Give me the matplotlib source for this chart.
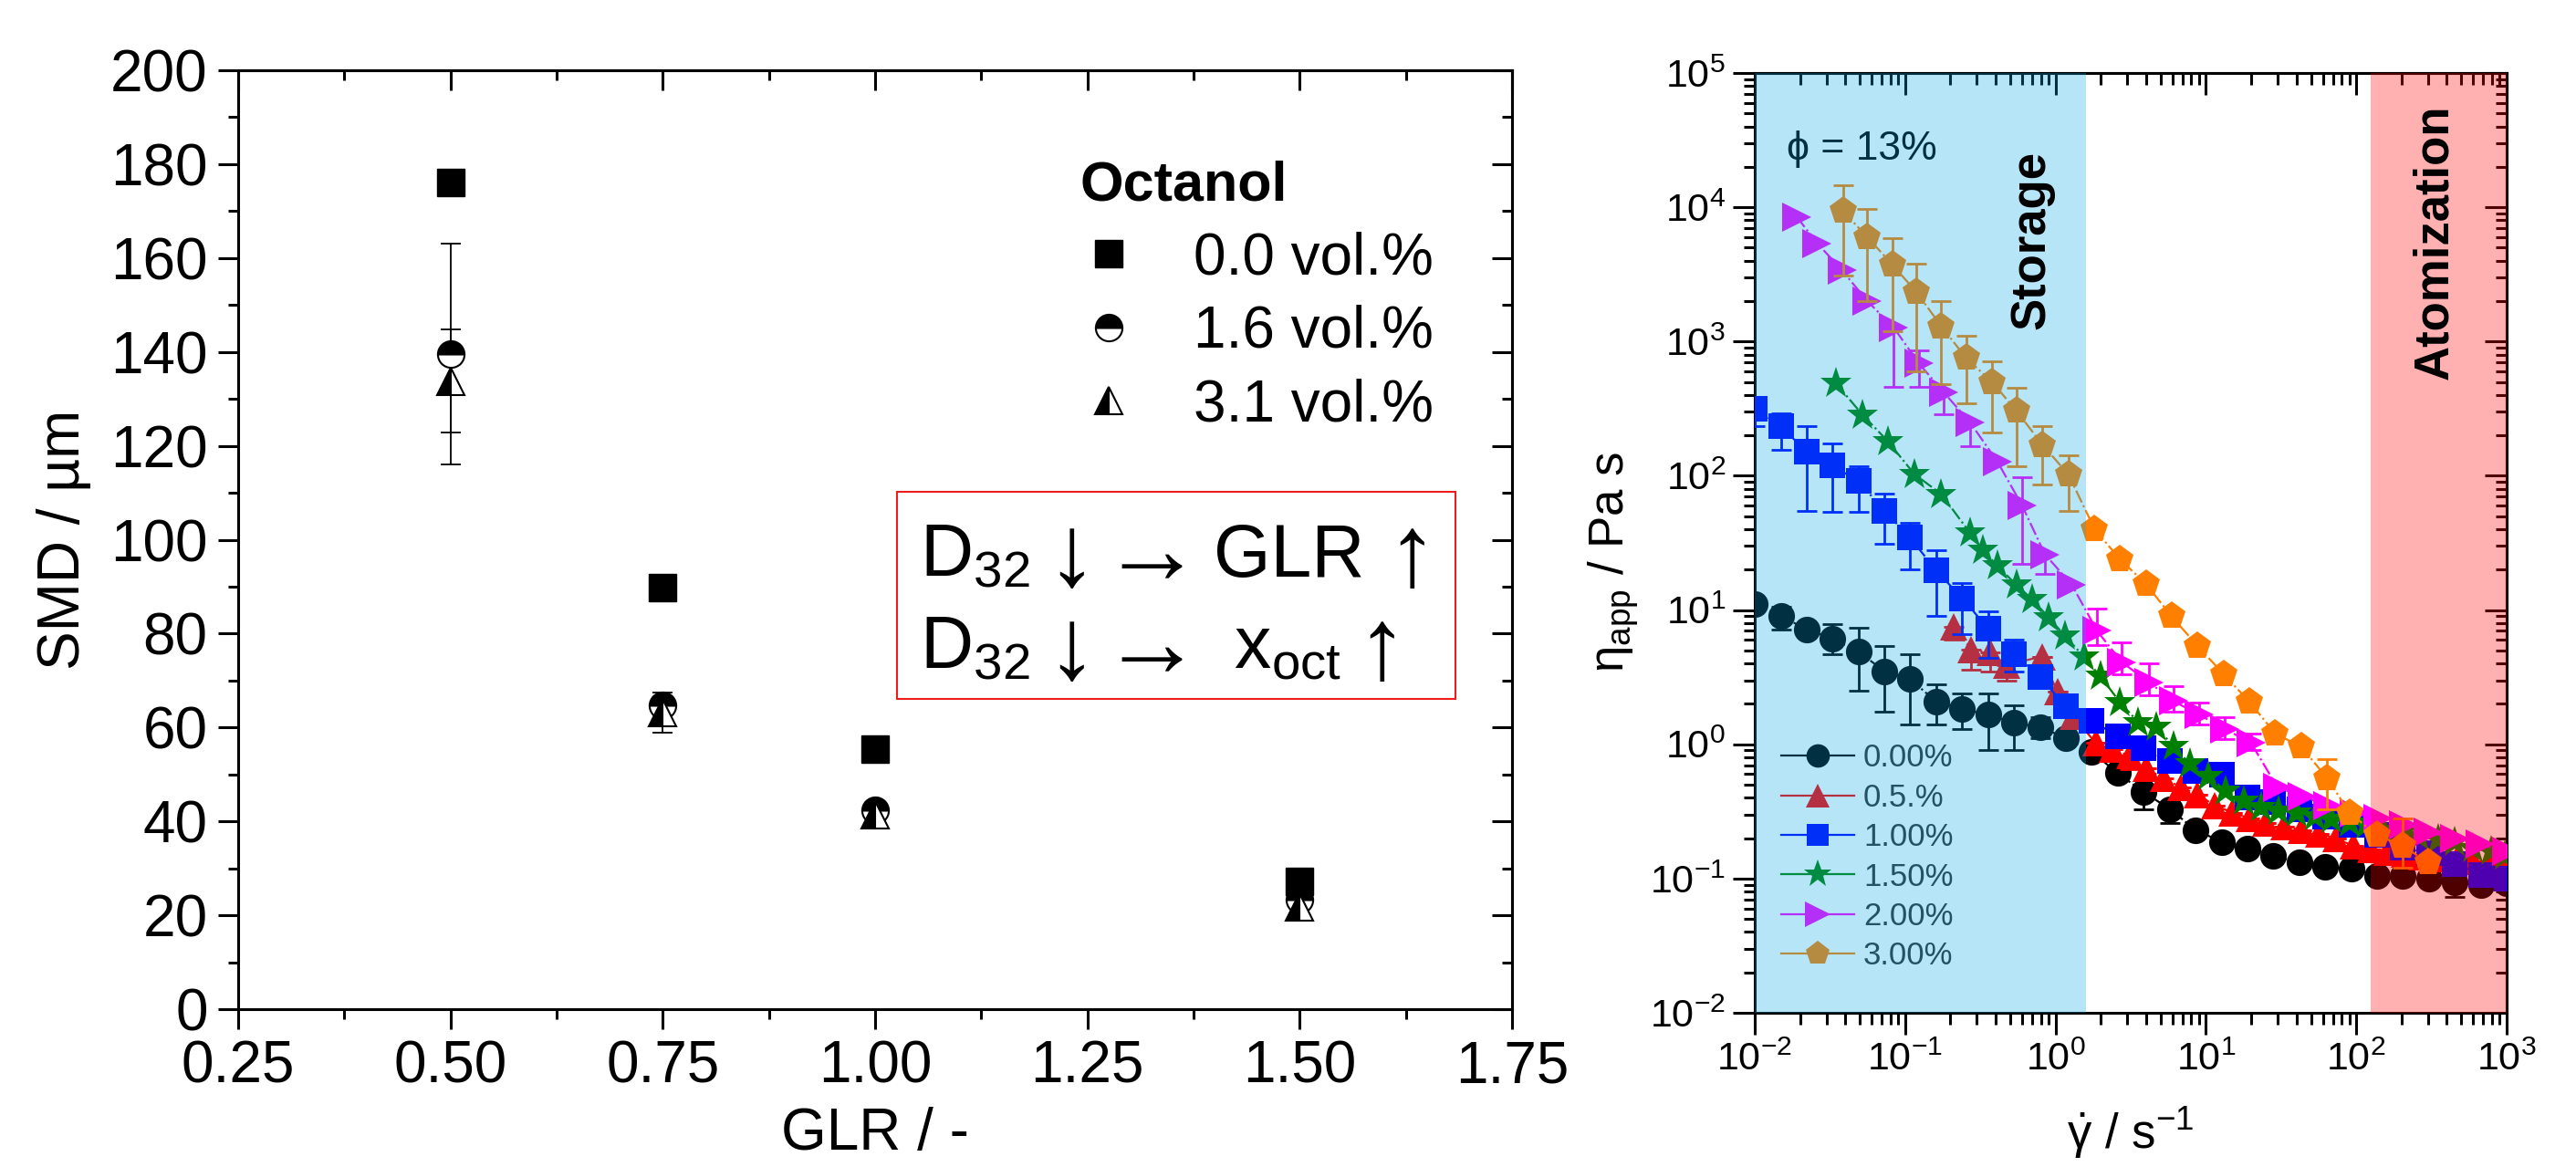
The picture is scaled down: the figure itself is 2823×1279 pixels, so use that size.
import matplotlib
matplotlib.use('Agg')
import matplotlib.pyplot as plt
from matplotlib.ticker import MultipleLocator, LogLocator, NullFormatter, FormatStrFormatter
from matplotlib.lines import Line2D
from matplotlib.patches import Rectangle

plt.rcParams['font.family'] = ['Liberation Sans', 'DejaVu Sans']
plt.rcParams['mathtext.fontset'] = 'custom'
plt.rcParams['mathtext.rm'] = 'Liberation Sans'
plt.rcParams['mathtext.it'] = 'Liberation Sans:italic'
plt.rcParams['mathtext.bf'] = 'Liberation Sans:bold'
plt.rcParams['mathtext.default'] = 'regular'

# ---------------- data: left panel (SMD vs GLR) ----------------
glr = [0.50, 0.75, 1.00, 1.50]
smd_00 = [176.0, 89.8, 55.4, 27.2]
smd_16 = [139.6, 64.8, 42.4, 23.3]
smd_31 = [133.8, 63.2, 41.4, 21.8]
err_16 = [23.5, 0.0, 0.0, 0.0]
err_31 = [11.0, 4.3, 0.0, 0.0]
octanol_labels = ['0.0 vol.%', '1.6 vol.%', '3.1 vol.%']

# ---------------- data: right panel (viscosity vs shear rate) ----------------
rate_grid = [0.0100, 0.0149, 0.0221, 0.0329, 0.0489, 0.0728, 0.108, 0.161, 0.240, 0.356,
             0.530, 0.788, 1.17, 1.74, 2.59, 3.86, 5.74, 8.53, 12.7, 18.9,
             28.1, 41.8, 62.1, 92.4, 137, 204, 304, 452, 672, 1000]

eta_000 = [11.0, 9.0, 7.2, 6.1, 4.9, 3.5, 3.05, 2.08, 1.83, 1.66,
           1.44, 1.35, 1.11, 0.88, 0.61, 0.44, 0.33, 0.23, 0.188, 0.167,
           0.147, 0.132, 0.122, 0.119, 0.105, 0.105, 0.099, 0.093, 0.089, 0.092]
lo_000 = [11.0, 7.2, 7.2, 4.7, 2.5, 1.75, 1.4, 1.4, 1.3, 0.91,
          0.91, 1.11, 1.11, 0.88, 0.61, 0.33, 0.26, 0.23, 0.188, 0.167,
          0.147, 0.132, 0.122, 0.119, 0.105, 0.105, 0.099, 0.073, 0.089, 0.092]
hi_000 = [11.0, 10.5, 7.2, 7.8, 7.4, 5.4, 4.7, 2.8, 2.4, 2.4,
          1.95, 1.6, 1.11, 0.88, 0.61, 0.44, 0.33, 0.23, 0.188, 0.167,
          0.147, 0.132, 0.122, 0.119, 0.105, 0.105, 0.099, 0.093, 0.089, 0.092]

rate_050 = [0.21, 0.275, 0.37, 0.47, 0.81, 1.03, 1.32, 1.85, 2.4, 3.1,
            4.0, 5.2, 6.8, 8.8, 11.5, 15, 19.5, 25, 33, 43,
            56, 73, 95, 124, 161, 210, 273, 355, 462, 600, 780, 1000]
eta_050 = [7.5, 5.1, 4.8, 3.9, 4.5, 2.45, 1.62, 1.02, 0.92, 0.82,
           0.66, 0.56, 0.48, 0.42, 0.35, 0.31, 0.28, 0.26, 0.245, 0.23,
           0.215, 0.2, 0.175, 0.165, 0.158, 0.152, 0.146, 0.141, 0.137, 0.134, 0.131, 0.128]
lo_050 = [6.0, 3.6, 3.5, 3.0, 4.5, 2.45, 1.62, 1.02, 0.92, 0.65,
          0.66, 0.47, 0.48, 0.42, 0.35, 0.31, 0.28, 0.26, 0.245, 0.23,
          0.215, 0.2, 0.175, 0.165, 0.158, 0.152, 0.146, 0.141, 0.137, 0.134, 0.131, 0.128]
hi_050 = [7.5, 5.1, 4.8, 3.9, 4.5, 2.45, 1.62, 1.02, 0.92, 0.82,
          0.66, 0.56, 0.48, 0.42, 0.35, 0.31, 0.28, 0.26, 0.245, 0.23,
          0.215, 0.2, 0.175, 0.165, 0.158, 0.152, 0.146, 0.141, 0.137, 0.134, 0.131, 0.128]

eta_100 = [318, 234, 151, 119, 91, 55, 34.5, 19.7, 12.2, 7.3,
           4.7, 3.15, 1.93, 1.5, 1.15, 0.93, 0.75, 0.63, 0.59, 0.40,
           0.37, 0.33, 0.29, 0.25, 0.21, 0.17, 0.155, 0.129, 0.107, 0.100]
lo_100 = [234, 157, 55, 54, 54, 31, 20, 9.1, 6.6, 4.4,
          3.5, 3.15, 1.93, 1.5, 1.15, 0.93, 0.75, 0.63, 0.59, 0.40,
          0.37, 0.33, 0.29, 0.25, 0.21, 0.17, 0.155, 0.129, 0.107, 0.100]
hi_100 = [318, 293, 235, 173, 118, 74, 44.5, 28, 16, 9.8,
          6.0, 3.15, 1.93, 1.5, 1.15, 0.93, 0.75, 0.63, 0.59, 0.40,
          0.37, 0.33, 0.29, 0.25, 0.21, 0.17, 0.155, 0.129, 0.107, 0.100]

rate_150 = [0.0346, 0.052, 0.077, 0.115, 0.174, 0.27, 0.33, 0.41, 0.55, 0.70,
            0.90, 1.16, 1.54, 1.99, 2.69, 3.55, 4.7, 6.1, 7.8, 10.4,
            13.5, 17.9, 23.4, 30.3, 40, 53, 68, 90, 117, 151,
            200, 263, 349, 451, 596, 788, 973]
eta_150 = [490, 285, 180, 103, 73, 37.5, 28, 21.3, 15.4, 12,
           8.8, 6.4, 4.5, 3.2, 2.05, 1.46, 1.35, 0.96, 0.72, 0.58,
           0.45, 0.38, 0.34, 0.32, 0.31, 0.29, 0.275, 0.26, 0.25, 0.229,
           0.217, 0.206, 0.196, 0.186, 0.167, 0.159, 0.148]

rate_200 = [0.019, 0.026, 0.038, 0.056, 0.084, 0.123, 0.18, 0.27, 0.41, 0.60,
            0.85, 1.28, 1.89, 2.75, 4.18, 6.07, 9.0, 13.4, 20, 30,
            44, 65, 97, 140, 205, 300, 450, 670, 1000]
eta_200 = [8500, 5400, 3400, 2000, 1270, 690, 420, 250, 128, 60,
           26, 15.5, 7.0, 4.1, 2.9, 2.1, 1.66, 1.3, 1.02, 0.475,
           0.41, 0.35, 0.31, 0.28, 0.25, 0.22, 0.2, 0.18, 0.16]
lo_200 = [8500, 5400, 3400, 2000, 460, 457, 288, 165, 128, 22,
          18.6, 15.5, 5.5, 3.3, 2.3, 1.75, 1.4, 1.1, 0.9, 0.475,
          0.41, 0.35, 0.31, 0.28, 0.25, 0.22, 0.2, 0.18, 0.16]
hi_200 = [8500, 5400, 3400, 2000, 1270, 855, 420, 250, 128, 98,
          26, 15.5, 10.3, 5.7, 4.0, 2.7, 2.05, 1.6, 1.2, 0.475,
          0.41, 0.35, 0.31, 0.28, 0.25, 0.22, 0.2, 0.18, 0.16]

rate_300 = [0.0386, 0.056, 0.082, 0.119, 0.174, 0.254, 0.38, 0.55, 0.82, 1.22,
            1.82, 2.69, 4.0, 5.9, 8.8, 13.2, 19.5, 28.9, 43, 64,
            90, 137, 204, 300]
eta_300 = [9400, 6000, 3750, 2330, 1300, 755, 497, 304, 170, 102,
           40, 23.8, 15.6, 9.0, 5.4, 3.3, 2.07, 1.2, 0.96, 0.56,
           0.31, 0.21, 0.175, 0.132]
lo_300 = [3100, 2000, 1200, 600, 480, 345, 211, 117, 86, 55,
          40, 23.8, 15.6, 9.0, 5.4, 3.3, 2.07, 1.2, 0.96, 0.33,
          0.31, 0.21, 0.12, 0.132]
hi_300 = [14600, 9700, 5900, 3800, 1990, 1100, 716, 455, 235, 141,
          40, 23.8, 15.6, 9.0, 5.4, 3.3, 2.07, 1.2, 0.96, 0.78,
          0.31, 0.21, 0.28, 0.132]

conc_labels = ['0.00%', '0.5.%', '1.00%', '1.50%', '2.00%', '3.00%']

# ---------------- figure ----------------
W, H = 2823, 1279
fig = plt.figure(figsize=(W / 100, H / 100), dpi=100)


def rect(l, t, r, b):
    return [l / W, 1 - b / H, (r - l) / W, (b - t) / H]


ax1 = fig.add_axes(rect(261, 77, 1657, 1106))
ax2 = fig.add_axes(rect(1923, 80, 2747, 1110))

SW = 2.2  # spine / tick width


def ax1_frac(px, py):
    """pixel position (figure, from top-left) -> ax1 axes fraction"""
    return (px - 261) / 1396, (1106 - py) / 1029


# ---------------- left panel ----------------
ms_l = 21
ax1.plot(glr, smd_00, ls='none', marker='s', ms=ms_l, color='black', zorder=3)
g16 = [g for g, e in zip(glr, err_16) if e > 0]
ax1.errorbar(g16, [v for v, e in zip(smd_16, err_16) if e > 0],
             yerr=[e for e in err_16 if e > 0], fmt='none', ecolor='black',
             elinewidth=1.3, capsize=8, capthick=1.3, zorder=2)
g31 = [g for g, e in zip(glr, err_31) if e > 0]
ax1.errorbar(g31, [v for v, e in zip(smd_31, err_31) if e > 0],
             yerr=[e for e in err_31 if e > 0], fmt='none', ecolor='black',
             elinewidth=1.3, capsize=8, capthick=1.3, zorder=2)
ax1.plot(glr, smd_16, ls='none', marker='o', ms=ms_l, fillstyle='top',
         markerfacecolor='black', markerfacecoloralt='white',
         markeredgecolor='black', markeredgewidth=1.5, zorder=3)
ax1.plot(glr, smd_31, ls='none', marker='^', ms=ms_l, fillstyle='left',
         markerfacecolor='black', markerfacecoloralt='white',
         markeredgecolor='black', markeredgewidth=1.5, zorder=4)

ax1.set_xlim(0.25, 1.75)
ax1.set_ylim(0, 200)
ax1.xaxis.set_major_locator(MultipleLocator(0.25))
ax1.xaxis.set_minor_locator(MultipleLocator(0.125))
ax1.xaxis.set_major_formatter(FormatStrFormatter('%.2f'))
ax1.yaxis.set_major_locator(MultipleLocator(20))
ax1.yaxis.set_minor_locator(MultipleLocator(10))
ax1.tick_params(which='major', direction='out', length=16, width=SW,
                labelsize=46, pad=8)
ax1.tick_params(which='minor', direction='out', length=8, width=SW)
for s in ax1.spines.values():
    s.set_linewidth(SW)

t1 = ax1.secondary_xaxis('top')
t1.xaxis.set_major_locator(MultipleLocator(0.25))
t1.xaxis.set_minor_locator(MultipleLocator(0.125))
t1.xaxis.set_major_formatter(NullFormatter())
t1.tick_params(which='major', direction='in', length=16, width=SW)
t1.tick_params(which='minor', direction='in', length=8, width=SW)
r1 = ax1.secondary_yaxis('right')
r1.yaxis.set_major_locator(MultipleLocator(20))
r1.yaxis.set_minor_locator(MultipleLocator(10))
r1.yaxis.set_major_formatter(NullFormatter())
r1.tick_params(which='major', direction='in', length=16, width=SW)
r1.tick_params(which='minor', direction='in', length=8, width=SW)
for sa in (t1, r1):
    for s in sa.spines.values():
        s.set_linewidth(SW)

ax1.set_xlabel('GLR / -', fontsize=46)
ax1.xaxis.set_label_coords(0.5, -0.104)
ax1.set_ylabel('SMD / µm', fontsize=46)
ax1.yaxis.set_label_coords(-0.115, 0.5)

h_l = [Line2D([], [], ls='none', marker='s', ms=ms_l, color='black'),
       Line2D([], [], ls='none', marker='o', ms=ms_l, fillstyle='top',
              markerfacecolor='black', markerfacecoloralt='white',
              markeredgecolor='black', markeredgewidth=1.5),
       Line2D([], [], ls='none', marker='^', ms=ms_l, fillstyle='left',
              markerfacecolor='black', markerfacecoloralt='white',
              markeredgecolor='black', markeredgewidth=1.5)]
leg1 = ax1.legend(h_l, octanol_labels, title='Octanol',
                  title_fontproperties={'weight': 'bold', 'size': 44},
                  prop={'size': 46}, loc='upper left',
                  bbox_to_anchor=ax1_frac(1183, 176),
                  frameon=False, handlelength=1.0, handletextpad=0.95,
                  labelspacing=0.32, borderpad=0, borderaxespad=0,
                  alignment='left')

x0, y0 = ax1_frac(983, 766)
x1, y1 = ax1_frac(1595, 539)
ax1.add_patch(Rectangle((x0, y0), x1 - x0, y1 - y0,
                        transform=ax1.transAxes, fill=False,
                        edgecolor='#ee1c1c', lw=1.5, zorder=5))
FS_BOX = 58
FS_ARR = 80
for (px, py, s, ha, va, fs) in [
        (1008, 632, 'D$_{32}$', 'left', 'baseline', FS_BOX),
        (1174, 613, '↓', 'center', 'center', FS_ARR),
        (1262, 610, '→', 'center', 'center', FS_ARR),
        (1330, 632, 'GLR', 'left', 'baseline', FS_BOX),
        (1547, 613, '↑', 'center', 'center', FS_ARR),
        (1008, 733, 'D$_{32}$', 'left', 'baseline', FS_BOX),
        (1174, 715, '↓', 'center', 'center', FS_ARR),
        (1262, 712, '→', 'center', 'center', FS_ARR),
        (1352, 733, 'x$_{oct}$', 'left', 'baseline', FS_BOX),
        (1514, 715, '↑', 'center', 'center', FS_ARR)]:
    fx, fy = ax1_frac(px, py)
    ax1.text(fx, fy, s, transform=ax1.transAxes, fontsize=fs, ha=ha, va=va)

# ---------------- right panel ----------------
series = [
    (rate_grid, eta_000, lo_000, hi_000, 'o', '#000000', 21),
    (rate_050, eta_050, lo_050, hi_050, '^', '#ff0000', 22),
    (rate_grid, eta_100, lo_100, hi_100, 's', '#0000ff', 20),
    (rate_150, eta_150, None, None, '*', '#008000', 26),
    (rate_200, eta_200, lo_200, hi_200, '>', '#ff00ff', 23),
    (rate_300, eta_300, lo_300, hi_300, 'p', '#ff8000', 23),
]
for k, (xs, ys, lo, hi, mk, col, ms) in enumerate(series):
    if lo is not None:
        yerr = [[y - l for y, l in zip(ys, lo)], [h - y for y, h in zip(ys, hi)]]
        ax2.errorbar(xs, ys, yerr=yerr, fmt='none', ecolor=col, elinewidth=2,
                     capsize=8, capthick=2, zorder=3 + k * 0.1)
    ax2.plot(xs, ys, ls='-.', lw=1.6, color=col, marker=mk, ms=ms,
             markeredgewidth=0, zorder=3 + k * 0.1 + 0.05)

ax2.set_xscale('log')
ax2.set_yscale('log')
ax2.set_xlim(1e-2, 1e3)
ax2.set_ylim(1e-2, 1e5)
for axis in (ax2.xaxis, ax2.yaxis):
    axis.set_major_locator(LogLocator(base=10, numticks=20))
    axis.set_minor_locator(LogLocator(base=10, subs=range(2, 10), numticks=20))
    axis.set_minor_formatter(NullFormatter())
ax2.tick_params(which='major', direction='out', length=17, width=SW,
                labelsize=31, pad=6)
ax2.tick_params(which='minor', direction='out', length=9, width=SW)
for s in ax2.spines.values():
    s.set_linewidth(SW)

t2 = ax2.secondary_xaxis('top')
r2 = ax2.secondary_yaxis('right')
for sa, axis in ((t2, t2.xaxis), (r2, r2.yaxis)):
    axis.set_major_locator(LogLocator(base=10, numticks=20))
    axis.set_minor_locator(LogLocator(base=10, subs=range(2, 10), numticks=20))
    axis.set_major_formatter(NullFormatter())
    axis.set_minor_formatter(NullFormatter())
    sa.tick_params(which='major', direction='in', length=17, width=SW)
    sa.tick_params(which='minor', direction='in', length=9, width=SW)
    for s in sa.spines.values():
        s.set_linewidth(SW)

ax2.set_ylabel(r'$\eta_{app}$ / Pa s', fontsize=38)
ax2.yaxis.set_label_coords(-0.152, 0.48)
ax2.set_xlabel(r'$\dot{\gamma}$ / s$^{-1}$', fontsize=38)
ax2.xaxis.set_label_coords(0.5, -0.098)

h_r = [Line2D([], [], color=col, marker=mk, ms=ms * 0.88, ls='-', lw=1.6,
              markeredgewidth=0)
       for (_, _, _, _, mk, col, ms) in series]
leg2 = ax2.legend(h_r, conc_labels, loc='upper left',
                  bbox_to_anchor=(0.035, 0.287), frameon=False, fontsize=25,
                  handlelength=2.3, handletextpad=0.3, labelspacing=0.3,
                  borderpad=0, borderaxespad=0, labelcolor='#303030')
leg2.set_zorder(5)

ax2.text(0.042, 0.919, 'ϕ = 13%', transform=ax2.transAxes, fontsize=32,
         ha='left', va='center', color='black', zorder=5)

# shaded regions (drawn over data, like a translucent overlay)
ax2.axvspan(0.01, 1.6, color=(0 / 255, 166 / 255, 228 / 255), alpha=0.29,
            lw=0, zorder=10)
ax2.axvspan(125, 1000, color=(1.0, 0.0, 0.0), alpha=0.31, lw=0, zorder=10)

ax2.text(0.368, 0.822, 'Storage', transform=ax2.transAxes, rotation=90,
         fontsize=38, fontweight='bold', ha='center', va='center', zorder=12)
ax2.text(0.904, 0.820, 'Atomization', transform=ax2.transAxes, rotation=90,
         fontsize=38, fontweight='bold', ha='center', va='center', zorder=12)

fig.savefig('out.png', dpi=100)
